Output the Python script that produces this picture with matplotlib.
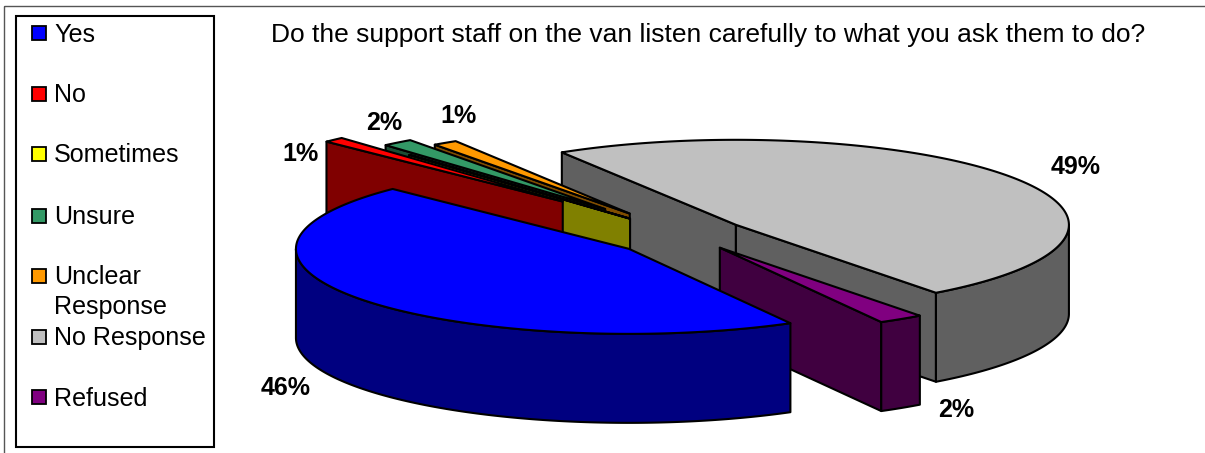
import numpy as np
import matplotlib
matplotlib.use("Agg")
import matplotlib.pyplot as plt
from matplotlib.patches import Rectangle, Polygon

plt.rcParams['font.family'] = ['Liberation Sans', 'DejaVu Sans']

title = "Do the support staff on the van listen carefully to what you ask them to do?"
categories = ["Yes", "No", "Sometimes", "Unsure", "Unclear\nResponse", "No Response", "Refused"]
values = [45.5, 1.0, 0.1, 1.5, 1.2, 48.5, 2.2]
labels = ["46%", "1%", "", "2%", "1%", "49%", "2%"]

top_colors = ["#0000FF", "#FF0000", "#FFFF00", "#339966", "#FF9900", "#C0C0C0", "#800080"]
wall_colors = ["#000080", "#800000", "#808000", "#1A4D33", "#804D00", "#606060", "#400040"]
explode = [64, 175, 80, 125, 96, 64, 64]
nudge_x = [-3, 0, 0, 0, 0, 0, 2]
nudge_y = [5, 0, 0, 0, 0, 0, 0]
draw_order = [5, 4, 3, 2, 1, 6, 0]
label_pos = [(286, 388), (301, 154), None, (384, 123), (458, 116), (1076, 167), (956, 410)]
legend_y = [33, 94, 154, 216, 276, 337, 397]

CX, CY, RX, RY, DEPTH, START = 683, 234, 333, 85, 89, -61.0
LW = 1.5

fig = plt.figure(figsize=(12.05, 4.53), dpi=100, facecolor="white")
ax = fig.add_axes([0, 0, 1, 1])
ax.set_xlim(0, 1205)
ax.set_ylim(453, 0)
ax.axis("off")

# outer chart frame
ax.add_patch(Rectangle((3.5, 5.5), 1300, 500, fill=False, ec="#555555", lw=1))

sweeps = np.array(values) / sum(values) * 360.0
ends = START - np.cumsum(sweeps)
starts = ends + sweeps


def rim(a0, a1, ox, oy):
    t = np.radians(np.linspace(a0, a1, max(2, int(abs(a1 - a0)) * 2 + 2)))
    return np.column_stack([ox + RX * np.cos(t), oy - RY * np.sin(t)])


def face(pts, color, z):
    ax.add_patch(Polygon(pts, closed=True, fc=color, ec="black", lw=LW, joinstyle="round", zorder=z))


for z, i in enumerate(draw_order):
    hi, lo = starts[i], ends[i]
    mid = np.radians((hi + lo) / 2)
    ox = CX + explode[i] * np.cos(mid) + nudge_x[i]
    oy = CY - explode[i] * RY / RX * np.sin(mid) + nudge_y[i]
    apex = np.array([ox, oy])
    zb = 10 + z * 5
    down = np.array([0, DEPTH])
    # radial walls that face the viewer
    if np.sin(np.radians(hi + 90)) < 0:
        p = rim(hi, hi, ox, oy)[0]
        face([apex, p, p + down, apex + down], wall_colors[i], zb)
    if np.sin(np.radians(lo - 90)) < 0:
        p = rim(lo, lo, ox, oy)[0]
        face([apex, p, p + down, apex + down], wall_colors[i], zb + 1)
    # outer wall: only the part on the near half
    for k in range(-1, 1):
        a0 = min(hi, 360 * k)
        a1 = max(lo, 360 * k - 180)
        if a0 > a1:
            r = rim(a0, a1, ox, oy)
            face(np.vstack([r, (r + down)[::-1]]), wall_colors[i], zb + 2)
    face(np.vstack([[apex], rim(hi, lo, ox, oy)]), top_colors[i], zb + 3)

for lab, pos in zip(labels, label_pos):
    if pos:
        ax.text(pos[0], pos[1], lab, ha="center", va="center", fontsize=18, fontweight="bold", color="black", zorder=100)

ax.text(708.5, 35, title, ha="center", va="center", fontsize=19, color="black")

# legend
ax.add_patch(Rectangle((16, 16), 198, 431, fc="white", ec="black", lw=1.5, zorder=50))
for name, col, y in zip(categories, top_colors, legend_y):
    ax.add_patch(Rectangle((31.5, y - 7), 14, 14, fc=col, ec="black", lw=1.3, zorder=51))
    if "\n" in name:
        first, second = name.split("\n")
        ax.text(54, y + 1.5, first, ha="left", va="center", fontsize=18.1, zorder=52)
        ax.text(54, y + 31, second, ha="left", va="center", fontsize=18.1, zorder=52)
    else:
        ax.text(54, y + 1.5, name, ha="left", va="center", fontsize=18.1, zorder=52)

fig.savefig("out.png", dpi=100)
